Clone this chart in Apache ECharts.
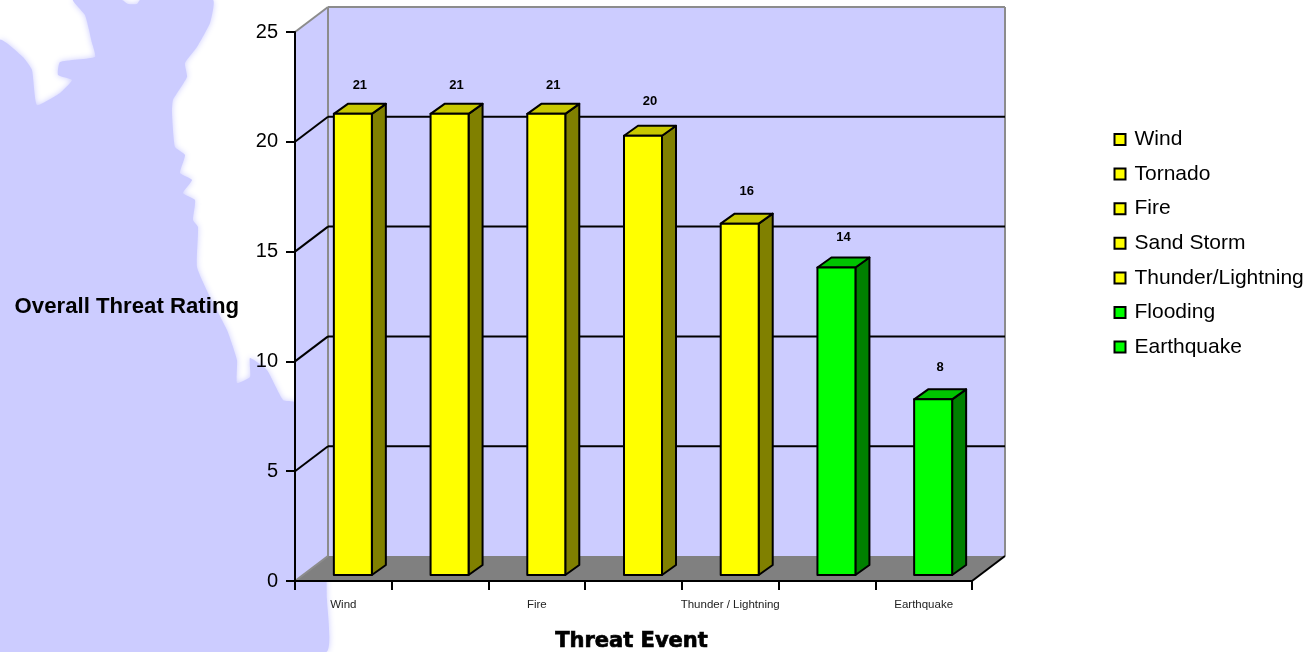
<!DOCTYPE html>
<html>
<head>
<meta charset="utf-8">
<title>Overall Threat Rating</title>
<style>html,body{margin:0;padding:0;background:#fff}#chart{width:1311px;height:652px}</style>
<script src="https://cdn.jsdelivr.net/npm/echarts@6/dist/echarts.min.js"></script>
</head>
<body>
<div id="chart"></div>
<script>
// Threat events and their overall ratings
const categories = ['Wind', 'Tornado', 'Fire', 'Sand Storm', 'Thunder / Lightning', 'Flooding', 'Earthquake'];
const legendNames = ['Wind', 'Tornado', 'Fire', 'Sand Storm', 'Thunder/Lightning', 'Flooding', 'Earthquake'];
const ratings = [21, 21, 21, 20, 16, 14, 8];
const yTicks = [0, 5, 10, 15, 20, 25];

// Face colours per rating band
const YELLOW = { front: '#ffff00', top: '#c8c800', side: '#808000' };
const GREEN = { front: '#00ff00', top: '#00c400', side: '#008000' };
const palette = [YELLOW, YELLOW, YELLOW, YELLOW, YELLOW, GREEN, GREEN];

// Pseudo-3D projection constants, in pixels
const WALL_DX = 33, WALL_DY = -25;
const BAR_SHIFT_X = 9.5, BAR_SHIFT_Y = -6, BAR_WIDTH = 38, BAR_DX = 14, BAR_DY = -10;
const LABEL_LIFT = [28, 28, 28, 34, 32, 30, 32];
const WALL = '#ccccff', EDGE = '#8c8c8c', FONT = '"Liberation Sans", Arial, sans-serif';

// Coastline backdrop sitting behind the plot
const coast = [[0,40],[23,57],[32,70],[37,105],[60,93],[72,80],[58,75],[60,62],[95,57],[92,43],[85,15],[73,0],
  [122,0],[128,4],[137,4],[140,0],[213,0],[210,23],[197,47],[185,63],[187,77],[173,100],[172,113],[175,147],
  [185,155],[180,173],[192,180],[183,193],[195,200],[193,220],[198,227],[197,267],[210,297],[227,330],
  [237,360],[237,383],[250,377],[250,358],[267,370],[283,400],[295,402],[322,430],[327,600],[326,652],[0,652]];

function renderBackdrop(params, api) {
  const g = params.coordSys;
  const l = g.x, r = g.x + g.width, b = g.y + g.height, t = g.y;
  const fill = (points, color) => ({ type: 'polygon', shape: { points }, style: { fill: color } });
  const edge = (x1, y1, x2, y2) => ({ type: 'line', shape: { x1, y1, x2, y2 }, style: { stroke: EDGE, lineWidth: 2 } });
  return { type: 'group', children: [
    fill([[l, b], [l, t], [l + WALL_DX, t + WALL_DY], [l + WALL_DX, b + WALL_DY]], WALL),
    fill([[l + WALL_DX, b + WALL_DY], [l + WALL_DX, t + WALL_DY], [r + WALL_DX, t + WALL_DY], [r + WALL_DX, b + WALL_DY]], WALL),
    fill([[l, b], [r, b], [r + WALL_DX, b + WALL_DY], [l + WALL_DX, b + WALL_DY]], '#808080'),
    edge(l + WALL_DX, t + WALL_DY, l + WALL_DX, b + WALL_DY),
    edge(r + WALL_DX, t + WALL_DY, r + WALL_DX, b + WALL_DY),
    { type: 'line', shape: { x1: r, y1: b, x2: r + WALL_DX, y2: b + WALL_DY }, style: { stroke: '#000', lineWidth: 2 } }
  ] };
}

function renderGridline(params, api) {
  const g = params.coordSys;
  const v = api.value(0);
  const y = api.coord([0, v])[1];
  const l = g.x, r = g.x + g.width;
  const color = (v === 0 || v === 25) ? EDGE : '#000';
  const children = [{ type: 'line', shape: { x1: l, y1: y, x2: l + WALL_DX, y2: y + WALL_DY }, style: { stroke: color, lineWidth: 2 } }];
  if (v !== 0) {
    children.push({ type: 'line', shape: { x1: l + WALL_DX, y1: y + WALL_DY, x2: r + WALL_DX, y2: y + WALL_DY }, style: { stroke: color, lineWidth: 2 } });
  }
  return { type: 'group', children };
}

function renderBar(params, api) {
  const i = api.value(0), v = api.value(1);
  const foot = api.coord([i, 0]), head = api.coord([i, v]);
  const colors = palette[i];
  const x0 = foot[0] + BAR_SHIFT_X - BAR_WIDTH / 2, x1 = x0 + BAR_WIDTH;
  const y0 = head[1] + BAR_SHIFT_Y, y1 = foot[1] + BAR_SHIFT_Y;
  const face = (points, color) => ({ type: 'polygon', shape: { points }, style: { fill: color, stroke: '#000', lineWidth: 2, lineJoin: 'round' } });
  return { type: 'group', children: [
    face([[x1, y0], [x1 + BAR_DX, y0 + BAR_DY], [x1 + BAR_DX, y1 + BAR_DY], [x1, y1]], colors.side),
    face([[x0, y0], [x0 + BAR_DX, y0 + BAR_DY], [x1 + BAR_DX, y0 + BAR_DY], [x1, y0]], colors.top),
    face([[x0, y0], [x1, y0], [x1, y1], [x0, y1]], colors.front),
    { type: 'text', style: {
        x: (x0 + x1) / 2 + 7, y: y0 - LABEL_LIFT[i], text: String(v), textAlign: 'center', textVerticalAlign: 'middle',
        font: 'bold 13px ' + FONT, fill: '#000' } }
  ] };
}

const chart = echarts.init(document.getElementById('chart'), null, { renderer: 'canvas' });
chart.setOption({
  animation: false,
  backgroundColor: '#ffffff',
  textStyle: { fontFamily: FONT },
  graphic: { elements: [{
    type: 'polygon', z: -100, silent: true,
    shape: { points: coast, smooth: 0.15 },
    style: { fill: WALL, shadowBlur: 6, shadowColor: WALL }
  }] },
  grid: { left: 295, top: 32, width: 677, height: 549, containLabel: false, outerBoundsMode: 'none' },
  legend: {
    orient: 'vertical', left: 1108.5, top: 124, itemWidth: 11, itemHeight: 11, itemGap: 13.6,
    icon: 'rect', selectedMode: false,
    data: legendNames,
    itemStyle: { borderColor: '#000', borderWidth: 2 },
    textStyle: { fontFamily: FONT, fontSize: 21, color: '#000', padding: [0, 0, 0, 4] }
  },
  xAxis: {
    type: 'category', data: categories, z: 6,
    name: 'Threat Event', nameLocation: 'middle', nameGap: 50,
    nameTextStyle: { fontFamily: '"DejaVu Sans", sans-serif', fontWeight: 'bold', fontSize: 21, color: '#000', textBorderColor: '#000', textBorderWidth: 0.7, padding: [0, 4, 0, 0] },
    axisLine: { show: true, lineStyle: { color: '#000', width: 2 } },
    axisTick: { show: true, interval: 0, length: 9, lineStyle: { color: '#000', width: 2 } },
    axisLabel: { show: true, interval: 1, margin: 18, fontSize: 11.5, color: '#222', fontFamily: FONT }
  },
  yAxis: {
    type: 'value', min: 0, max: 25, interval: 5, z: 6,
    name: 'Overall Threat Rating', nameLocation: 'middle', nameRotate: 0, nameGap: 56,
    nameTextStyle: { fontFamily: FONT, fontWeight: 'bold', fontSize: 22.2, color: '#000' },
    axisLine: { show: true, lineStyle: { color: '#000', width: 2 } },
    axisTick: { show: true, length: 9, lineStyle: { color: '#000', width: 2 } },
    axisLabel: { margin: 17, fontSize: 20, color: '#000', fontFamily: FONT },
    splitLine: { show: false }
  },
  series: [
    { type: 'custom', name: 'backdrop', z: 1, silent: true, clip: false, data: [[0]], renderItem: renderBackdrop, encode: { y: 0 } },
    { type: 'custom', name: 'gridlines', z: 2, silent: true, clip: false, data: yTicks.map(v => [v]), renderItem: renderGridline, encode: { y: 0 } }
  ].concat(ratings.map((v, i) => ({
    type: 'custom', name: legendNames[i], z: 3, clip: false, silent: true,
    itemStyle: { color: palette[i].front },
    data: [[i, v]],
    encode: { x: 0, y: 1 },
    renderItem: renderBar
  })))
});
</script>
</body>
</html>
